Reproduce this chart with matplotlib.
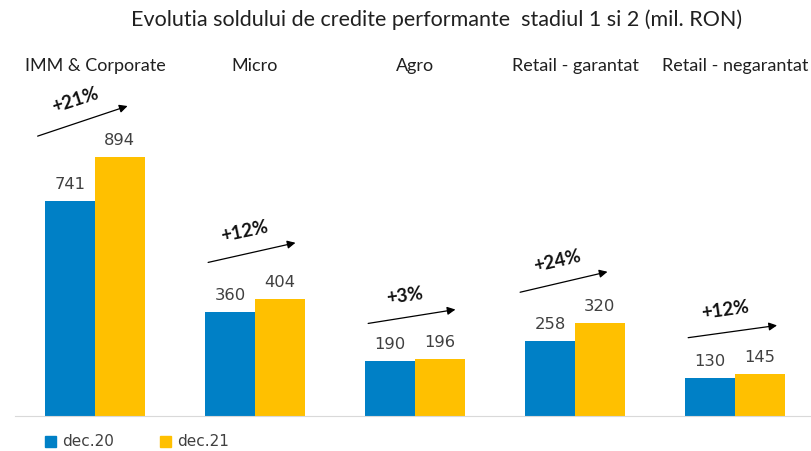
import numpy as np
import matplotlib
matplotlib.use('Agg')
import matplotlib.pyplot as plt
from matplotlib.transforms import blended_transform_factory

# date
categorii = ['IMM & Corporate', 'Micro', 'Agro', 'Retail - garantat', 'Retail - negarantat']
dec20 = [741, 360, 190, 258, 130]
dec21 = [894, 404, 196, 320, 145]
cresteri = ['+21%', '+12%', '+3%', '+24%', '+12%']
serii = ['dec.20', 'dec.21']

# pozitii sageti (fata de valoarea maxima a grupului), unghi text
sageata_start = [69, 124, 122, 105, 124]
sageata_end = [179, 196, 173, 180, 169]
text_unghi = [18, 12, 8, 13, 8]

albastru = '#0080C6'
galben = '#FFC000'

W, H = 812, 451
fig = plt.figure(figsize=(W / 100, H / 100), dpi=100)
ax = fig.add_axes([15 / W, 35 / H, 800 / W, 356 / H])

x = np.arange(len(categorii))
w = 0.31
ax.bar(x - w / 2, dec20, w, color=albastru)
ax.bar(x + w / 2, dec21, w, color=galben)
ax.set_xlim(-0.5, 4.5)
ax.set_ylim(0, max(dec21) * 356 / 259)

for s in ['top', 'right', 'left']:
    ax.spines[s].set_visible(False)
ax.spines['bottom'].set_color('#D9D9D9')
ax.set_xticks([])
ax.set_yticks([])

for i in range(len(categorii)):
    ax.annotate(str(dec20[i]), (x[i] - w / 2, dec20[i]), xytext=(0, 12), textcoords='offset pixels',
                ha='center', va='baseline', fontsize=11.8, color='#404040', family='DejaVu Sans')
    ax.annotate(str(dec21[i]), (x[i] + w / 2, dec21[i]), xytext=(0, 12), textcoords='offset pixels',
                ha='center', va='baseline', fontsize=11.8, color='#404040', family='DejaVu Sans')

trans = blended_transform_factory(ax.transData, ax.transAxes)
for i, c in enumerate(categorii):
    ax.text(x[i], (416 - 66) / 356, c, transform=trans, ha='center', va='center',
            fontsize=13, color='#202020', family='Lato')

# sageti si procente
x_start = [-0.375, -0.31, -0.31, -0.36, -0.31]
x_end = [0.22, 0.27, 0.27, 0.22, 0.28]
for i in range(len(categorii)):
    top = max(dec20[i], dec21[i])
    x0, x1 = x[i] + x_start[i], x[i] + x_end[i]
    y0, y1 = top + sageata_start[i], top + sageata_end[i]
    ax.annotate('', xy=(x1, y1), xytext=(x0, y0),
                arrowprops=dict(arrowstyle='-|>', color='black', lw=0.9, mutation_scale=12),
                annotation_clip=False)
    ax.annotate(cresteri[i], ((x0 + x1) / 2, (y0 + y1) / 2), xytext=(-7, 21),
                textcoords='offset pixels', ha='center', va='center',
                rotation=text_unghi[i], fontsize=13.5, fontweight='bold', family='Lato',
                color='#111111', annotation_clip=False)

fig.text(437 / W, 1 - 20 / H, 'Evolutia soldului de credite performante  stadiul 1 si 2 (mil. RON)',
         ha='center', va='center', fontsize=15.5, color='#202020', family='Lato')

# legenda
for j, (lab, col) in enumerate(zip(serii, [albastru, galben])):
    lx = 45 + j * 115
    fig.patches.append(plt.Rectangle((lx / W, 1 - 447 / H), 11 / W, 11 / H,
                                     transform=fig.transFigure, color=col))
    fig.text((lx + 17) / W, 1 - 442 / H, lab, ha='left', va='center',
             fontsize=11, color='#404040', family='DejaVu Sans')

fig.savefig('out.png', dpi=100)
